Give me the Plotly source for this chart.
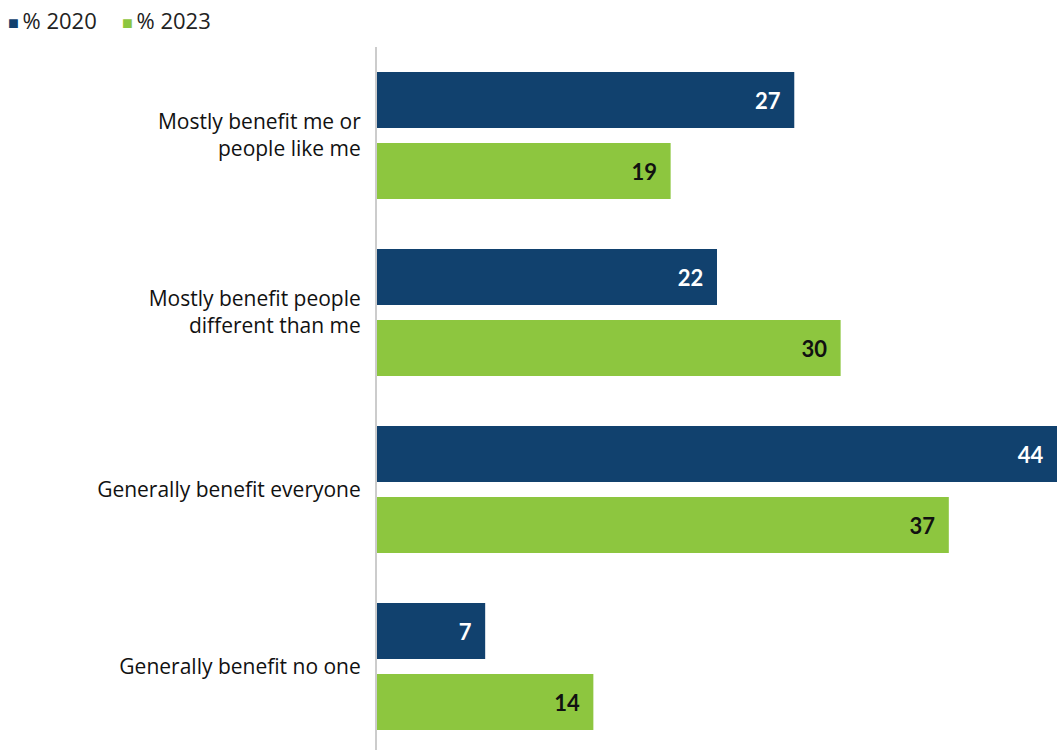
import plotly.graph_objects as go

categories = ["Mostly benefit me or<br>people like me",
              "Mostly benefit people<br>different than me",
              "Generally benefit everyone",
              "Generally benefit no one"]
series_names = ["% 2020", "% 2023"]
values_2020 = [27, 22, 44, 7]
values_2023 = [19, 30, 37, 14]

BLUE = "#11416E"
GREEN = "#8DC63F"
W, H = 1057, 750
L, T, B = 377, 47, 0
plot_h = H - T - B
px_per_cat = 177.0
bar_w = 56 / px_per_cat
off = 35.5 / px_per_cat
PAD = "\u00a0\u00a0"

fig = go.Figure()
fig.add_trace(go.Bar(
    y=categories, x=values_2020, orientation="h", name=series_names[0],
    marker=dict(color=BLUE, line=dict(width=0)),
    width=bar_w, offset=-off - bar_w / 2,
    texttemplate="%{x}" + PAD, textposition="inside", insidetextanchor="end",
    textfont=dict(color="white", size=22, family="Lato", weight="bold"),
    showlegend=False,
))
fig.add_trace(go.Bar(
    y=categories, x=values_2023, orientation="h", name=series_names[1],
    marker=dict(color=GREEN, line=dict(width=0)),
    width=bar_w, offset=off - bar_w / 2,
    texttemplate="%{x}" + PAD, textposition="inside", insidetextanchor="end",
    textfont=dict(color="#111111", size=22, family="Lato", weight="bold"),
    showlegend=False,
))

top_cat = -0.5
bottom_cat = top_cat + plot_h / px_per_cat

# legend drawn as text annotations
legend_xs = [6, 120]
for name, color, lx in zip(series_names, [BLUE, GREEN], legend_xs):
    fig.add_annotation(
        xref="paper", yref="paper",
        x=(lx - L) / (W - L), y=1 + (T - 20) / plot_h,
        xanchor="left", yanchor="middle", showarrow=False,
        text=f"<span style='color:{color};font-size:18px'>■</span>\u2009{name}",
        font=dict(size=22, family="Open Sans", color="#222222"),
    )

fig.update_layout(
    width=W, height=H,
    barmode="overlay",
    plot_bgcolor="white", paper_bgcolor="white",
    margin=dict(l=L, r=0, t=T, b=B, pad=0),
    font=dict(family="Open Sans", color="#111111"),
    xaxis=dict(range=[0, 44], visible=False, fixedrange=True),
    yaxis=dict(
        type="category", categoryorder="array", categoryarray=categories,
        range=[bottom_cat, top_cat],
        showline=True, linecolor="#cccccc", linewidth=2,
        showgrid=False, zeroline=False, ticks="outside", ticklen=10,
        tickcolor="rgba(0,0,0,0)",
        tickfont=dict(size=21, family="Open Sans", color="#111111"),
    ),
    showlegend=False,
)

fig.write_html(
    "out.html",
    config={"displayModeBar": False},
    post_script="document.body.style.margin='0';"
                "document.documentElement.style.overflow='hidden';",
)
